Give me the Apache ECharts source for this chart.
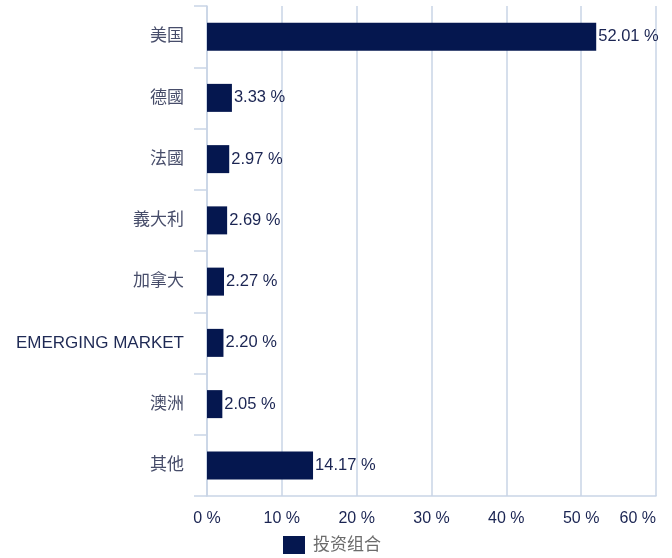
<!DOCTYPE html>
<html>
<head>
<meta charset="utf-8">
<script src="https://cdn.jsdelivr.net/npm/echarts@6/dist/echarts.min.js"></script>
<style>
  html, body { margin: 0; padding: 0; background: #ffffff; }
  #chart { width: 672px; height: 558px; }
</style>
</head>
<body>
<div id="chart"></div>
<script>
// Country allocation of the portfolio (percent of assets)
const categories = ['美国', '德國', '法國', '義大利', '加拿大', 'EMERGING MARKET', '澳洲', '其他'];
const portfolioValues = [52.01, 3.33, 2.97, 2.69, 2.27, 2.20, 2.05, 14.17];
const seriesName = '投资组合';
const xTicks = [0, 10, 20, 30, 40, 50, 60];

const navy = '#05174f';
const gridColor = '#c9d5e6';
const fontFamily = '"Liberation Sans", Arial, "Noto Sans CJK SC", sans-serif';

// CJK names render a little lighter than the Latin ones
const isLatin = s => /^[\x00-\x7F]+$/.test(s);

const chart = echarts.init(document.getElementById('chart'), null, { renderer: 'canvas' });

chart.setOption({
  animation: false,
  backgroundColor: '#ffffff',
  textStyle: { fontFamily: fontFamily },
  grid: { left: 207, right: 16, top: 6, bottom: 62, containLabel: false },
  legend: {
    data: [seriesName],
    left: 283,
    top: 536,
    padding: 0,
    itemWidth: 22,
    itemHeight: 18,
    itemGap: 8,
    icon: 'rect',
    textStyle: { color: '#6b6b6b', fontSize: 17, fontFamily: fontFamily, padding: [0, 0, 0, 3] }
  },
  xAxis: {
    type: 'value',
    min: xTicks[0],
    max: xTicks[xTicks.length - 1],
    interval: 10,
    axisLine: { show: true, lineStyle: { color: gridColor, width: 1.5 } },
    axisTick: { show: false },
    splitLine: { show: true, lineStyle: { color: gridColor, width: 1.5 } },
    axisLabel: {
      margin: 15,
      color: '#1a2452',
      fontSize: 16,
      fontFamily: fontFamily,
      alignMaxLabel: 'right',
      formatter: v => v + ' %'
    }
  },
  yAxis: {
    type: 'category',
    inverse: true,
    data: categories,
    axisLine: { show: true, lineStyle: { color: gridColor, width: 1.5 } },
    axisTick: { show: true, length: 13, lineStyle: { color: gridColor, width: 1.5 } },
    splitLine: { show: false },
    axisLabel: {
      margin: 23,
      color: v => (isLatin(v) ? '#1f2a55' : '#474d6a'),
      fontSize: 17,
      fontFamily: fontFamily
    }
  },
  series: [{
    name: seriesName,
    type: 'bar',
    data: portfolioValues,
    barWidth: 28,
    itemStyle: { color: navy },
    label: {
      show: true,
      position: 'right',
      distance: 2,
      color: '#1a2452',
      fontSize: 16.5,
      fontFamily: fontFamily,
      formatter: p => p.value.toFixed(2) + ' %'
    }
  }]
});
</script>
</body>
</html>
